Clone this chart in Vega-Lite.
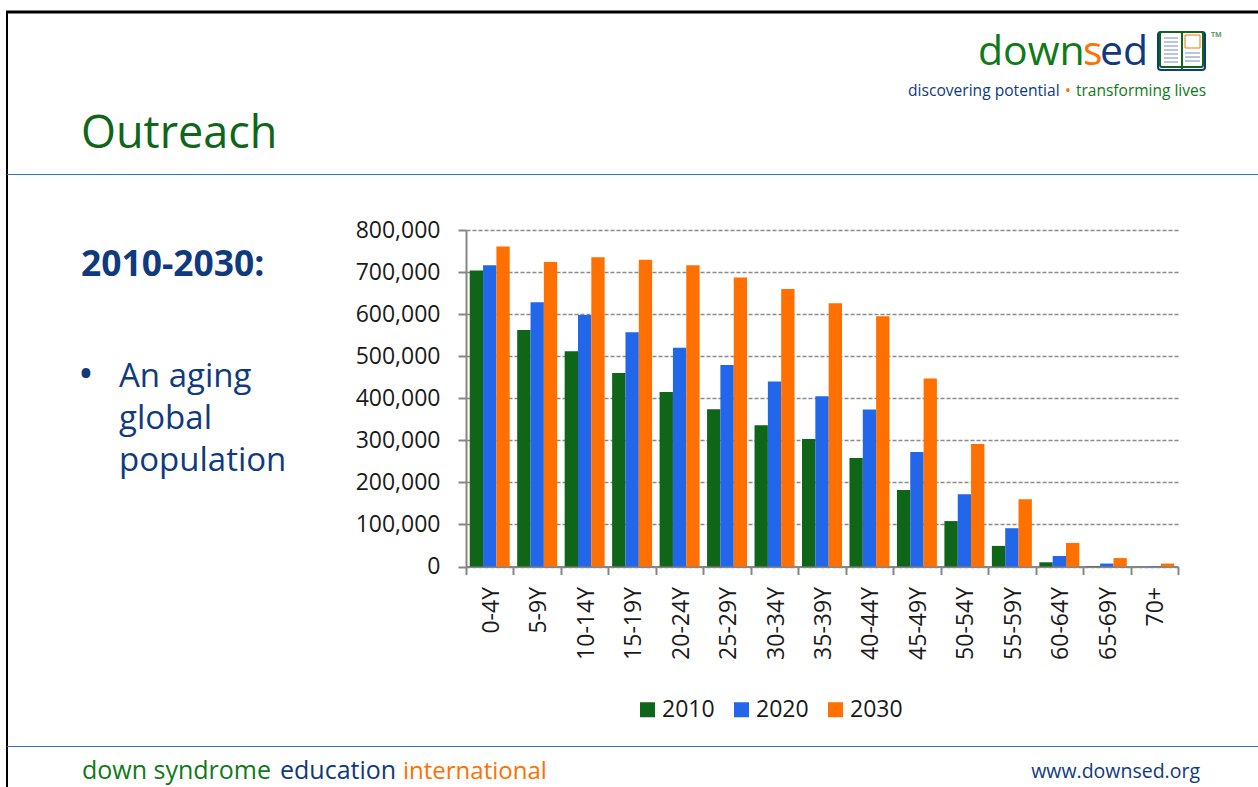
{
"$schema":"https://vega.github.io/schema/vega-lite/v6.json",
"autosize":"none","width":712,"height":336.5,
"padding":{"left":466,"top":230,"right":80,"bottom":220.5},
"background":"white",
"data":{"values":[{"piece":"slide"}]},
"config":{"view":{"stroke":null},"font":"Open Sans","text":{"baseline":"alphabetic","align":"left"}},
"layer":[
{"mark":{"type":"rule","color":"#000000","strokeWidth":3},"encoding":{"x":{"value":-460},"x2":{"value":792},"y":{"value":-218}}},
{"mark":{"type":"rule","color":"#000000","strokeWidth":2},"encoding":{"x":{"value":-459},"y":{"value":-218},"y2":{"value":557}}},
{"mark":{"type":"rule","color":"#2f6fd8","strokeWidth":1},"encoding":{"x":{"value":-459},"x2":{"value":792},"y":{"value":-55.5}}},
{"mark":{"type":"rule","color":"#2f6fd8","strokeWidth":1},"encoding":{"x":{"value":-459},"x2":{"value":792},"y":{"value":516.5}}},
{"data":{"values":[
{"age":"0-4Y","year":"2010","population":704000},{"age":"0-4Y","year":"2020","population":716000},{"age":"0-4Y","year":"2030","population":761000},
{"age":"5-9Y","year":"2010","population":562000},{"age":"5-9Y","year":"2020","population":628000},{"age":"5-9Y","year":"2030","population":724000},
{"age":"10-14Y","year":"2010","population":512000},{"age":"10-14Y","year":"2020","population":598000},{"age":"10-14Y","year":"2030","population":735000},
{"age":"15-19Y","year":"2010","population":460000},{"age":"15-19Y","year":"2020","population":557000},{"age":"15-19Y","year":"2030","population":729000},
{"age":"20-24Y","year":"2010","population":415000},{"age":"20-24Y","year":"2020","population":520000},{"age":"20-24Y","year":"2030","population":716000},
{"age":"25-29Y","year":"2010","population":374000},{"age":"25-29Y","year":"2020","population":479000},{"age":"25-29Y","year":"2030","population":687000},
{"age":"30-34Y","year":"2010","population":336000},{"age":"30-34Y","year":"2020","population":440000},{"age":"30-34Y","year":"2030","population":660000},
{"age":"35-39Y","year":"2010","population":303000},{"age":"35-39Y","year":"2020","population":405000},{"age":"35-39Y","year":"2030","population":626000},
{"age":"40-44Y","year":"2010","population":258000},{"age":"40-44Y","year":"2020","population":373000},{"age":"40-44Y","year":"2030","population":595000},
{"age":"45-49Y","year":"2010","population":182000},{"age":"45-49Y","year":"2020","population":272000},{"age":"45-49Y","year":"2030","population":447000},
{"age":"50-54Y","year":"2010","population":108000},{"age":"50-54Y","year":"2020","population":172000},{"age":"50-54Y","year":"2030","population":291000},
{"age":"55-59Y","year":"2010","population":49000},{"age":"55-59Y","year":"2020","population":91000},{"age":"55-59Y","year":"2030","population":160000},
{"age":"60-64Y","year":"2010","population":10000},{"age":"60-64Y","year":"2020","population":25000},{"age":"60-64Y","year":"2030","population":56000},
{"age":"65-69Y","year":"2010","population":1000},{"age":"65-69Y","year":"2020","population":7000},{"age":"65-69Y","year":"2030","population":20000},
{"age":"70+","year":"2010","population":200},{"age":"70+","year":"2020","population":1000},{"age":"70+","year":"2030","population":7000}
]},
"mark":{"type":"bar"},
"encoding":{
"x":{"field":"age","type":"nominal","sort":null,"title":null,
 "scale":{"paddingInner":0,"paddingOuter":0},
 "axis":{"labelAngle":-90,"tickBand":"extent","labelFont":"Open Sans","labelFontSize":23,"labelColor":"#1a1a1a","tickColor":"#868686","tickWidth":2,"tickSize":8,"domainColor":"#868686","domainWidth":2,"labelPadding":12,"labelOffset":1.5,"grid":false}},
"xOffset":{"field":"year","type":"nominal","scale":{"paddingInner":0,"paddingOuter":0.28}},
"y":{"field":"population","type":"quantitative","title":null,
 "scale":{"domain":[0,800000],"nice":false},
 "axis":{"values":[0,100000,200000,300000,400000,500000,600000,700000,800000],"format":",d","labelFont":"Open Sans","labelFontSize":23,"labelColor":"#1a1a1a","tickColor":"#868686","tickWidth":2,"tickSize":8,"domainColor":"#868686","domainWidth":2,"labelPadding":18,"grid":true,"gridColor":"#8a8a8a","gridDash":[4,2],"gridWidth":1.3}},
"color":{"field":"year","type":"nominal","title":null,
 "scale":{"domain":["2010","2020","2030"],"range":["#0f6518","#2266ea","#ff7000"]},
 "legend":{"orient":"none","legendX":170,"legendY":468,"direction":"horizontal","symbolType":"square","symbolSize":225,"symbolStrokeWidth":0,"labelFont":"Open Sans","labelFontSize":23,"labelColor":"#1a1a1a","labelOffset":3,"columnPadding":15,"title":null}}
}},

{"data":{"values":[{"t":"Outreach"}]},"mark":{"type":"text","fontSize":45,"color":"#0f6518"},"encoding":{"text":{"field":"t"},"x":{"value":-385},"y":{"value":-82}}},
{"data":{"values":[{"t":"2010-2030:"}]},"mark":{"type":"text","fontWeight":700,"fontSize":35.4,"color":"#0f3a7d"},"encoding":{"text":{"field":"t"},"x":{"value":-385},"y":{"value":46}}},
{"data":{"values":[{"t":"•"}]},"mark":{"type":"text","fontSize":42,"color":"#0f3a7d"},"encoding":{"text":{"field":"t"},"x":{"value":-388},"y":{"value":158}}},
{"data":{"values":[{"t":"An aging"}]},"mark":{"type":"text","fontSize":33,"color":"#0f3a7d"},"encoding":{"text":{"field":"t"},"x":{"value":-347},"y":{"value":157}}},
{"data":{"values":[{"t":"global"}]},"mark":{"type":"text","fontSize":33,"color":"#0f3a7d"},"encoding":{"text":{"field":"t"},"x":{"value":-347},"y":{"value":199}}},
{"data":{"values":[{"t":"population"}]},"mark":{"type":"text","fontSize":33,"color":"#0f3a7d"},"encoding":{"text":{"field":"t"},"x":{"value":-347},"y":{"value":241}}},

{"data":{"values":[{"t":"down syndrome"}]},"mark":{"type":"text","fontSize":25,"color":"#0f7a18"},"encoding":{"text":{"field":"t"},"x":{"value":-384},"y":{"value":549}}},
{"data":{"values":[{"t":"education"}]},"mark":{"type":"text","fontSize":25,"color":"#0f3a7d"},"encoding":{"text":{"field":"t"},"x":{"value":-186},"y":{"value":549}}},
{"data":{"values":[{"t":"international"}]},"mark":{"type":"text","fontSize":24,"color":"#ff7000"},"encoding":{"text":{"field":"t"},"x":{"value":-63},"y":{"value":549}}},
{"data":{"values":[{"t":"www.downsed.org"}]},"mark":{"type":"text","align":"right","fontSize":19.5,"color":"#0f3a7d"},"encoding":{"text":{"field":"t"},"x":{"value":734},"y":{"value":548}}},

{"data":{"values":[{"t":"down"}]},"mark":{"type":"text","fontSize":41,"color":"#0f7a18"},"encoding":{"text":{"field":"t"},"x":{"value":512},"y":{"value":-165}}},
{"data":{"values":[{"t":"s"}]},"mark":{"type":"text","fontSize":41,"color":"#ff7000"},"encoding":{"text":{"field":"t"},"x":{"value":617},"y":{"value":-165}}},
{"data":{"values":[{"t":"ed"}]},"mark":{"type":"text","fontSize":41,"color":"#0f3a7d"},"encoding":{"text":{"field":"t"},"x":{"value":634},"y":{"value":-165}}},
{"data":{"values":[{"t":"TM"}]},"mark":{"type":"text","fontSize":7,"fontWeight":700,"color":"#5f9a6a"},"encoding":{"text":{"field":"t"},"x":{"value":745},"y":{"value":-193}}},
{"data":{"values":[{"t":"discovering potential"}]},"mark":{"type":"text","fontSize":15.6,"color":"#0f3a7d"},"encoding":{"text":{"field":"t"},"x":{"value":442},"y":{"value":-134}}},
{"data":{"values":[{"t":"•"}]},"mark":{"type":"text","fontSize":15.6,"color":"#ff7000"},"encoding":{"text":{"field":"t"},"x":{"value":599},"y":{"value":-134}}},
{"data":{"values":[{"t":"transforming lives"}]},"mark":{"type":"text","fontSize":15.5,"color":"#0f7a18"},"encoding":{"text":{"field":"t"},"x":{"value":610},"y":{"value":-134}}},

{"mark":{"type":"rect","fill":"#ffffff","stroke":"#0f3a7d","strokeWidth":2,"cornerRadius":3},"encoding":{"x":{"value":692},"x2":{"value":739},"y":{"value":-198},"y2":{"value":-160}}},
{"mark":{"type":"rect","fill":"#ffffff","stroke":"#0f6518","strokeWidth":2,"cornerRadius":2},"encoding":{"x":{"value":694},"x2":{"value":737},"y":{"value":-198},"y2":{"value":-163}}},
{"mark":{"type":"rule","color":"#0f6518","strokeWidth":2},"encoding":{"x":{"value":716},"y":{"value":-198},"y2":{"value":-160}}},
{"mark":{"type":"rule","color":"#b9c4de","strokeWidth":14,"strokeDash":[2,2]},"encoding":{"x":{"value":705},"y":{"value":-193},"y2":{"value":-167}}},
{"mark":{"type":"rule","color":"#b9c4de","strokeWidth":15,"strokeDash":[2,2]},"encoding":{"x":{"value":726.5},"y":{"value":-178},"y2":{"value":-167}}},
{"mark":{"type":"rect","fill":"#ffffff","stroke":"#ff7000","strokeWidth":1},"encoding":{"x":{"value":719},"x2":{"value":734},"y":{"value":-195},"y2":{"value":-182}}}
]
}
